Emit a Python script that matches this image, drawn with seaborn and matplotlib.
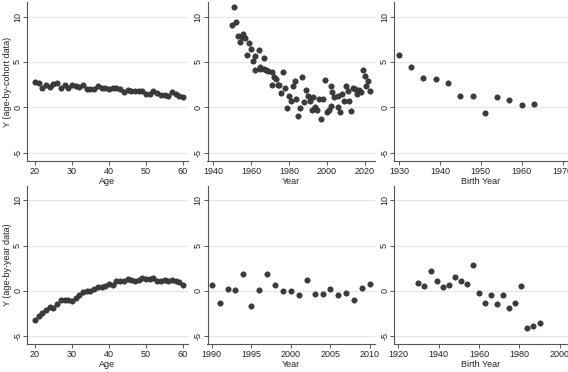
import numpy as np
import pandas as pd
import seaborn as sns
import matplotlib.pyplot as plt

##############################################################################
# data
##############################################################################

# top row: age-by-cohort data
cohort_age = list(range(20, 61))
cohort_age_y = [2.75, 2.68, 2.1, 2.45, 2.25, 2.6, 2.65, 2.15, 2.45, 2.15,
                2.45, 2.3, 2.25, 2.45, 2.05, 2.05, 2.05, 2.4, 2.15, 2.1,
                2.05, 2.1, 2.15, 2.0, 1.7, 1.9, 1.75, 1.85, 1.85, 1.8,
                1.5, 1.5, 1.75, 1.6, 1.35, 1.35, 1.3, 1.65, 1.45, 1.3, 1.15]

cohort_year = [1950, 1951, 1952, 1953, 1954, 1955, 1956, 1957, 1958, 1959,
               1960, 1961, 1962, 1962, 1964, 1965, 1965, 1967, 1967, 1968,
               1969, 1971, 1971, 1972, 1973, 1974, 1975, 1976, 1977, 1978,
               1979, 1980, 1981, 1982, 1983, 1984, 1985, 1986, 1987, 1988,
               1989, 1990, 1991, 1992, 1993, 1994, 1995, 1996, 1997, 1998,
               1999, 2000, 2001, 2002, 2002, 2003, 2004, 2006, 2006, 2007,
               2008, 2009, 2010, 2011, 2012, 2013, 2014, 2015, 2016, 2017,
               2018, 2019, 2020, 2021, 2022, 2023]
cohort_year_y = [9.1, 11.1, 9.4, 7.9, 7.25, 7.75, 8.1, 7.65, 5.8, 7.05,
                 6.4, 5.15, 4.1, 5.7, 6.3, 4.2, 4.5, 5.45, 4.25, 4.1,
                 4.0, 3.85, 2.45, 3.35, 3.15, 2.45, 2.45, 1.6, 3.9, 2.1,
                 -0.05, 1.2, 0.75, 2.4, 2.9, 0.9, -0.9, -0.05, 3.3, 0.6,
                 1.95, 1.25, 0.65, -0.3, 1.15, 0.05, -0.25, 0.95, -1.25, 0.9,
                 3.0, -0.5, -0.25, 0.2, 2.4, 1.65, 1.1, 1.2, 0.0, -0.5,
                 1.5, 0.65, 2.4, 1.8, 0.7, -0.45, 2.15, 2.05, 1.5, 1.9,
                 1.65, 4.1, 3.45, 2.4, 2.9, 1.75]

cohort_birth = list(range(1930, 1964, 3))
cohort_birth_y = [5.75, 4.5, 3.2, 3.1, 2.7, 1.2, 1.2, -0.65, 1.15, 0.85, 0.25, 0.35]

# bottom row: age-by-year data
year_age = list(range(20, 61))
year_age_y = [-3.25, -2.85, -2.5, -2.1, -1.85, -1.9, -1.5, -1.0, -1.0, -1.05,
              -1.15, -0.75, -0.45, -0.1, -0.05, 0.0, 0.2, 0.4, 0.45, 0.5,
              0.75, 0.6, 1.1, 1.05, 1.05, 1.25, 1.15, 1.1, 1.2, 1.4,
              1.25, 1.25, 1.4, 1.1, 1.05, 1.15, 1.05, 1.2, 1.05, 0.95, 0.65]

year_year = list(range(1990, 2011))
year_year_y = [0.65, -1.35, 0.2, 0.05, 1.85, -1.65, 0.05, 1.8, 0.6, -0.05,
               0.0, -0.45, 1.2, -0.35, -0.4, 0.2, -0.5, -0.25, -1.05, 0.35, 0.8]

year_birth = list(range(1930, 1991, 3))
year_birth_y = [0.85, 0.55, 2.2, 1.1, 0.45, 0.65, 1.55, 1.1, 0.7, 2.8,
                -0.2, -1.4, -0.45, -1.5, -0.5, -1.9, -1.35, 0.55, -4.1, -3.9, -3.55]

##############################################################################
# panel settings
##############################################################################
sns.set_style("white")
plt.rcParams["font.family"] = ["Liberation Sans", "DejaVu Sans"]
plt.rcParams["font.size"] = 6.5

fig = plt.figure(figsize=(5.68, 3.72), dpi=100)

W, H = 568.0, 372.0
cols = [(27, 188), (207.5, 375), (394, 568)]
rows = [(2, 161), (186, 344)]

panels = [
    # row, col, x, y, xlabel, xlim, xticks
    (0, 0, cohort_age, cohort_age_y, "Age", (17.84, 61.35), [20, 30, 40, 50, 60]),
    (0, 1, cohort_year, cohort_year_y, "Year", (1937.0, 2025.5), [1940, 1960, 1980, 2000, 2020]),
    (0, 2, cohort_birth, cohort_birth_y, "Birth Year", (1928.8, 1971.3), [1930, 1940, 1950, 1960, 1970]),
    (1, 0, year_age, year_age_y, "Age", (17.84, 61.35), [20, 30, 40, 50, 60]),
    (1, 1, year_year, year_year_y, "Year", (1989.47, 2010.63), [1990, 1995, 2000, 2005, 2010]),
    (1, 2, year_birth, year_birth_y, "Birth Year", (1917.9, 2004.1), [1920, 1940, 1960, 1980, 2000]),
]
ylabels = ["Y (age-by-cohort data)", "Y (age-by-year data)"]

for r, c, xs, ys, xlab, xlim, xticks in panels:
    x0, x1 = cols[c]
    top, bot = rows[r]
    ax = fig.add_axes([x0 / W, 1 - bot / H, (x1 - x0) / W, (bot - top) / H])
    df = pd.DataFrame({"x": xs, "y": ys})
    sns.scatterplot(data=df, x="x", y="y", ax=ax, color="#3c3c3c",
                    edgecolor="#2a2a2a", linewidth=0.4, s=15, zorder=3)
    ax.set_xlim(*xlim)
    ax.set_ylim(-5.9, 11.6)
    ax.set_xticks(xticks)
    ax.set_yticks([-5, 0, 5, 10])
    ax.set_yticklabels(["-5", "0", "5", "10"], rotation=90, va="center")
    ax.grid(axis="y", color="#e6e6e6", linewidth=0.9)
    ax.set_axisbelow(True)
    for side in ["top", "right"]:
        ax.spines[side].set_visible(False)
    for side in ["left", "bottom"]:
        ax.spines[side].set_color("#555555")
        ax.spines[side].set_linewidth(0.8)
    ax.tick_params(axis="both", direction="out", length=3, width=0.7,
                   color="#555555", labelsize=6.5, labelcolor="#222222",
                   pad=1.5, left=True, bottom=True)
    ax.tick_params(axis="y", pad=0.5)
    ax.set_xlabel(xlab, fontsize=6.5, labelpad=0.5, color="#222222")
    if c == 0:
        ax.set_ylabel(ylabels[r], fontsize=6.5, color="#222222")
        # keep the label inside the figure, like the reference
        ax.yaxis.set_label_coords(-0.093, 0.5)
    else:
        ax.set_ylabel("")

fig.savefig("out.png", dpi=100, facecolor="white")
